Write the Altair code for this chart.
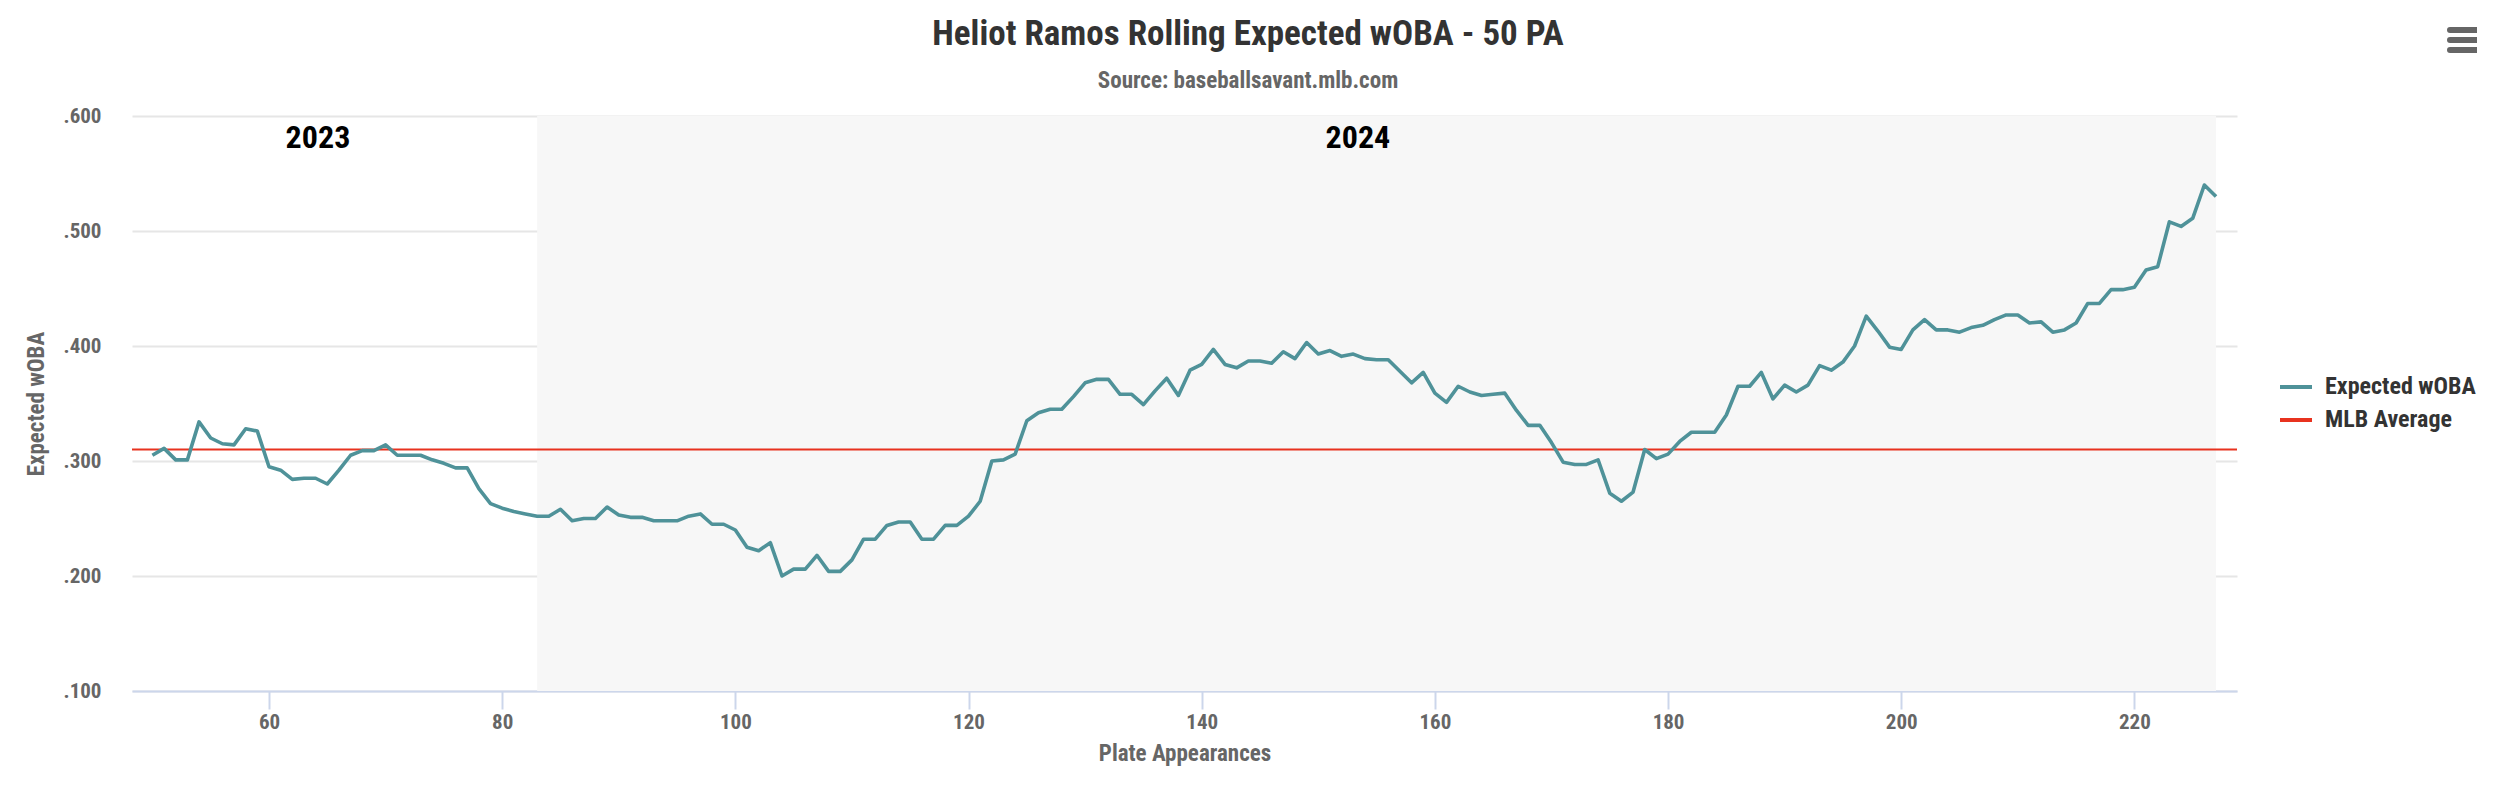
import altair as alt
import pandas as pd

# ---- data ----
pa = list(range(50, 228))
xwoba = [
    .305, .311, .301, .301, .334, .320, .315, .314, .328, .326,   # 50-59
    .295, .292, .284, .285, .285, .280, .292, .305, .309, .309,   # 60-69
    .314, .305, .305, .305, .301, .298, .294, .294, .276, .263,   # 70-79
    .259, .256, .254, .252, .252, .258, .248, .250, .250, .260,   # 80-89
    .253, .251, .251, .248, .248, .248, .252, .254, .245, .245,   # 90-99
    .240, .225, .222, .229, .200, .206, .206, .218, .204, .204,   # 100-109
    .214, .232, .232, .244, .247, .247, .232, .232, .244, .244,   # 110-119
    .252, .265, .300, .301, .306, .335, .342, .345, .345, .356,   # 120-129
    .368, .371, .371, .358, .358, .349, .361, .372, .357, .379,   # 130-139
    .384, .397, .384, .381, .387, .387, .385, .395, .389, .403,   # 140-149
    .393, .396, .391, .393, .389, .388, .388, .378, .368, .377,   # 150-159
    .359, .351, .365, .360, .357, .358, .359, .344, .331, .331,   # 160-169
    .316, .299, .297, .297, .301, .272, .265, .273, .310, .302,   # 170-179
    .306, .317, .325, .325, .325, .340, .365, .365, .377, .354,   # 180-189
    .366, .360, .366, .383, .379, .386, .400, .426, .413, .399,   # 190-199
    .397, .414, .423, .414, .414, .412, .416, .418, .423, .427,   # 200-209
    .427, .420, .421, .412, .414, .420, .437, .437, .449, .449,   # 210-219
    .451, .466, .469, .508, .504, .511, .540, .530,               # 220-227
]
mlb_average = [0.310]
season_start_2024 = [83]
season_end_2024 = [227]
year_labels = ["2023", "2024"]
year_label_pa = [64.2, 153.4]
x_ticks = [60, 80, 100, 120, 140, 160, 180, 200, 220]
y_ticks = [0.1, 0.2, 0.3, 0.4, 0.5, 0.6]
series_names = ["Expected wOBA", "MLB Average"]
title_text = ["Heliot Ramos Rolling Expected wOBA - 50 PA"]
subtitle_text = ["Source: baseballsavant.mlb.com"]

X_DOMAIN = [48.25, 228.8]
Y_DOMAIN = [0.1, 0.6]

TEAL = "#4f9299"
RED = "#e8321f"
FONT = "Roboto Condensed, Liberation Sans Narrow, DejaVu Sans Condensed, Roboto"

line_df = pd.DataFrame({"pa": pa, "xwoba": xwoba, "series": series_names[0]})
avg_df = pd.DataFrame({"avg": mlb_average, "series": series_names[1]})
band_df = pd.DataFrame({"start": season_start_2024, "end": season_end_2024,
                        "top": [Y_DOMAIN[1]], "bottom": [Y_DOMAIN[0]]})
label_df = pd.DataFrame({"year": year_labels, "x": year_label_pa})

W, H = 2105, 575

xscale = alt.Scale(domain=X_DOMAIN, nice=False, zero=False)
yscale = alt.Scale(domain=Y_DOMAIN, nice=False, zero=False)

color_scale = alt.Scale(domain=series_names, range=[TEAL, RED])

band = alt.Chart(band_df).mark_rect(color="#f7f7f7").encode(
    x=alt.X("start:Q", scale=xscale,
            axis=alt.Axis(values=x_ticks, title="Plate Appearances", grid=False,
                          format="d")),
    x2="end:Q",
    y=alt.Y("top:Q", scale=yscale,
            axis=alt.Axis(values=y_ticks, title="Expected wOBA",
                          labelExpr="substring(format(datum.value, '.3f'), 1)")),
    y2="bottom:Q",
)

year_text = alt.Chart(label_df).mark_text(
    font=FONT, fontSize=32, fontWeight="bold", color="#000000", baseline="middle"
).encode(
    x=alt.X("x:Q", scale=xscale),
    y=alt.value(22),
    text="year:N",
)

avg_rule = alt.Chart(avg_df).mark_rule(strokeWidth=2).encode(
    y=alt.Y("avg:Q", scale=yscale),
    color=alt.Color("series:N", scale=color_scale,
                    legend=alt.Legend(title=None, orient="none", legendX=2146,
                                      legendY=253, symbolType="stroke",
                                      symbolStrokeWidth=4, symbolSize=1024,
                                      labelFont=FONT, labelFontSize=24,
                                      labelFontWeight="bold", labelColor="#333333",
                                      labelOffset=11, rowPadding=3)),
)

xwoba_line = alt.Chart(line_df).mark_line(strokeWidth=3.6, strokeJoin="round").encode(
    x=alt.X("pa:Q", scale=xscale),
    y=alt.Y("xwoba:Q", scale=yscale),
    color=alt.Color("series:N", scale=color_scale),
)

title_mark = alt.Chart(pd.DataFrame({"t": title_text})).mark_text(
    font=FONT, fontSize=35, fontWeight="bold", color="#333333",
    align="center", baseline="alphabetic"
).encode(x=alt.value(1116), y=alt.value(-71), text="t:N")

subtitle_mark = alt.Chart(pd.DataFrame({"t": subtitle_text})).mark_text(
    font=FONT, fontSize=23, fontWeight="bold", color="#666666",
    align="center", baseline="alphabetic"
).encode(x=alt.value(1116), y=alt.value(-28), text="t:N")

menu_df = pd.DataFrame({"bar": [0]})
menu_bars = [
    alt.Chart(menu_df).mark_rule(color="#666666", strokeWidth=6, strokeCap="round").encode(
        x=alt.value(W + 213), x2=alt.value(W + 241), y=alt.value(yy))
    for yy in (-86, -76, -66)
]

chart = alt.layer(band, avg_rule, xwoba_line, year_text, title_mark, subtitle_mark,
                  *menu_bars).properties(
    width=W,
    height=H,
    autosize=alt.AutoSizeParams(type="none"),
    padding={"left": 124, "top": 108, "right": 240, "bottom": 100},
).configure_view(stroke=None).configure_axis(
    labelFont=FONT, labelFontSize=21, labelFontWeight="bold", labelColor="#666666",
    titleFont=FONT, titleFontSize=23, titleFontWeight="bold", titleColor="#666666",
    gridColor="#e6e6e6", gridWidth=2,
).configure_axisX(
    domainColor="#ccd6eb", domainWidth=2, tickColor="#ccd6eb", tickWidth=2,
    tickSize=18, labelPadding=2, titlePadding=10,
).configure_axisY(
    domain=False, ticks=False, labelPadding=31, titlePadding=15,
)

chart.save("out.html", embed_options={"renderer": "svg", "actions": False})
